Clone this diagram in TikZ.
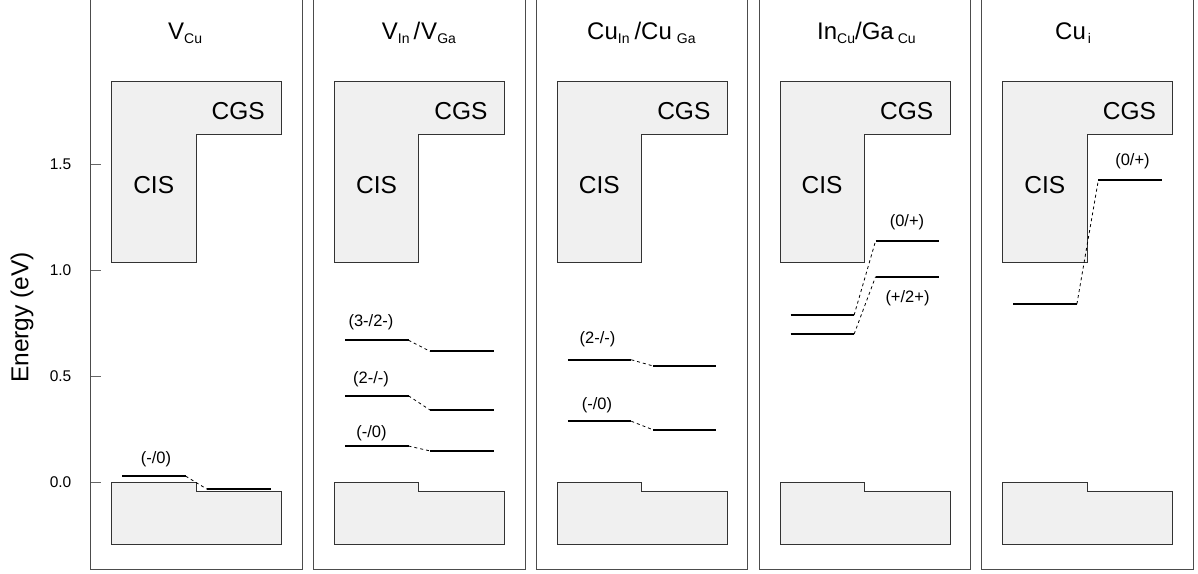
\documentclass[tikz,border=0pt]{standalone}
\usepackage{fontspec}
\setmainfont{Liberation Sans}
\newcommand\sbs[1]{\raisebox{-4pt}{\fontsize{14}{14}\selectfont #1}}
\newcommand\levelpair[4]{%
  \coordinate (#1-a) at ({#2+31.5},#3);
  \coordinate (#1-b) at ({#2+95},#3);
  \coordinate (#1-c) at ({#2+116.5},#4);
  \coordinate (#1-d) at ({#2+180},#4);
  \draw[level] (#1-a) -- (#1-b);
  \draw[level] (#1-c) -- (#1-d);
  \draw[link] (#1-b) -- (#1-c);}
\begin{document}
\begin{tikzpicture}[x=1pt,y=1pt,
  panelframe/.style={draw=black!70, line width=1pt},
  band/.style={draw=black!80, fill=black!6, line width=0.9pt},
  level/.style={line width=2pt, draw=black},
  link/.style={draw=black, dash pattern=on 3pt off 3pt, line width=0.8pt},
  tickline/.style={draw=black!60, line width=1pt},
  ticklabel/.style={anchor=east, inner sep=0pt, font=\fontsize{15.5}{15.5}\selectfont},
  titletext/.style={anchor=base west, inner sep=0pt, font=\fontsize{24}{24}\selectfont},
  bandlabel/.style={inner sep=0pt, font=\fontsize{24.5}{24.5}\selectfont},
  lvllabel/.style={inner sep=0pt, font=\fontsize{16.5}{16.5}\selectfont}]
\useasboundingbox (0,-573) rectangle (1198,0);

% y axis label and ticks
\node[rotate=90, inner sep=0pt, font=\fontsize{24.5}{24.5}\selectfont] (ylab) at (22,-317.5) {Energy (eV)};
\foreach \e/\t [count=\i] in {0/0.0,0.5/0.5,1/1.0,1.5/1.5}{
  \pgfmathsetmacro\yy{-(482.5-212*\e)}
  \draw[tickline] (90.7,\yy) -- (100.7,\yy);
  \node[ticklabel] (tk\i) at (71.5,\yy) {\t};
}

% panel frames and bands
\foreach \k in {0,...,4}{
  \pgfmathsetmacro\L{90.7+222.8*\k}
  \draw[panelframe] ({\L},2) |- ({\L+211.6},-569.3) -- ({\L+211.6},2);
  \begin{scope}[shift={(0,-482.5)}, y=212pt]
    \draw[band] ({\L+21},1.892) -- ({\L+191},1.892) -- ({\L+191},1.64) -- ({\L+105.4},1.64) -- ({\L+105.4},1.04) -- ({\L+21},1.04) -- cycle;
    \draw[band] ({\L+21},0) -- ({\L+105.4},0) -- ({\L+105.4},-0.04) -- ({\L+191},-0.04) -- ({\L+191},-0.291) -- ({\L+21},-0.291) -- cycle;
  \end{scope}
  \node[bandlabel] (cis\k) at ({\L+63},-185.5) {CIS};
  \node[bandlabel] (cgs\k) at ({\L+147.5},-111) {CGS};
}

% defect levels
\begin{scope}[shift={(0,-482.5)}, y=212pt]
  \levelpair{va}{90.7}{0.03}{-0.032}
  \levelpair{vb1}{313.5}{0.671}{0.619}
  \levelpair{vb2}{313.5}{0.409}{0.342}
  \levelpair{vb3}{313.5}{0.172}{0.149}
  \levelpair{cu1}{536.3}{0.579}{0.55}
  \levelpair{cu2}{536.3}{0.289}{0.249}
  \levelpair{in1}{759.1}{0.79}{1.14}
  \levelpair{in2}{759.1}{0.70}{0.971}
  \levelpair{ci}{981.9}{0.842}{1.428}
\end{scope}

% level labels
\node[lvllabel] (la1) at (156,-459) {(-/0)};
\node[lvllabel] (lb1) at (371,-322) {(3-/2-)};
\node[lvllabel] (lb2) at (371,-379) {(2-/-)};
\node[lvllabel] (lb3) at (371.5,-433) {(-/0)};
\node[lvllabel] (lc1) at (597.5,-339) {(2-/-)};
\node[lvllabel] (lc2) at (597,-405) {(-/0)};
\node[lvllabel] (ld1) at (907,-222) {(0/+)};
\node[lvllabel] (ld2) at (907.5,-298) {(+/2+)};
\node[lvllabel] (le1) at (1132.5,-161) {(0/+)};

% titles
\node[titletext] (t1) at (168,-39) {V\sbs{Cu}};
\node[titletext] (t2) at (381.7,-39) {V\sbs{In}\hspace{4pt}/\hspace{1pt}V\sbs{Ga}};
\node[titletext] (t3) at (587,-39) {Cu\sbs{In}\hspace{5pt}/Cu\hspace{5pt}\sbs{Ga}};
\node[titletext] (t4) at (817,-39) {In\sbs{Cu}/Ga\hspace{4pt}\sbs{Cu}};
\node[titletext] (t5) at (1055,-39) {Cu\hspace{2pt}\sbs{i}};
\end{tikzpicture}
\end{document}
